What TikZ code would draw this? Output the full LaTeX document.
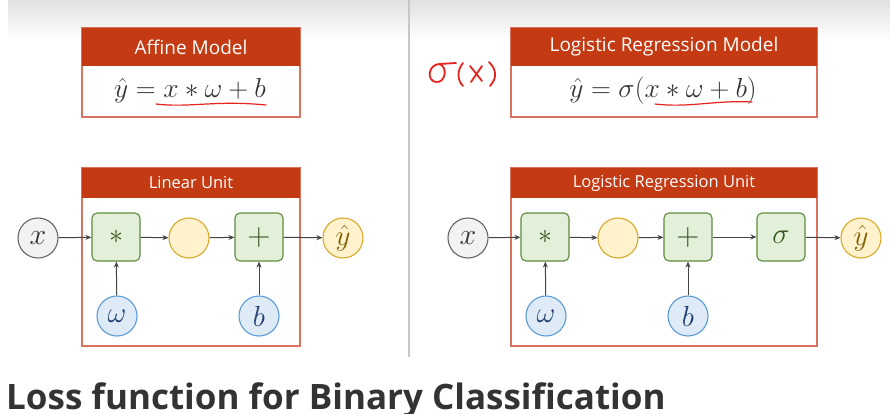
\RequirePackage{fix-cm}
\documentclass[tikz,border=0pt]{standalone}
\usepackage[no-math]{fontspec}
\setmainfont{Open Sans}
\usetikzlibrary{arrows.meta}
\definecolor{hdr}{HTML}{C43A12}
\definecolor{bdr}{HTML}{D7735F}
\definecolor{gfill}{HTML}{E2F0D9}
\definecolor{gdraw}{HTML}{5E8A3E}
\definecolor{gtext}{HTML}{385723}
\definecolor{yfill}{HTML}{FFF2CC}
\definecolor{ydraw}{HTML}{D9A92B}
\definecolor{ytext}{HTML}{7F6000}
\definecolor{bfill}{HTML}{DEEBF7}
\definecolor{bdraw}{HTML}{5B9BD5}
\definecolor{btext}{HTML}{1F3F6E}
\definecolor{xfill}{HTML}{F2F2F2}
\definecolor{xdraw}{HTML}{666666}
\definecolor{txt}{HTML}{333333}
\definecolor{arr}{HTML}{444444}
\definecolor{pen}{HTML}{E8231E}
\tikzset{
  container/.style={draw=bdr, line width=1.1pt, inner sep=0pt},
  header/.style={fill=hdr, inner sep=0pt, text=white},
  opbox/.style={draw=gdraw, fill=gfill, line width=1.1pt, rounded corners=5pt, minimum size=48pt, inner sep=0pt, text=gtext},
  midc/.style={circle, draw=ydraw, fill=yfill, line width=1.1pt, minimum size=40pt, inner sep=0pt},
  outc/.style={circle, draw=ydraw, fill=yfill, line width=1.1pt, minimum size=40pt, inner sep=0pt, text=ytext, font=\fontsize{29}{29}\selectfont},
  parc/.style={circle, draw=bdraw, fill=bfill, line width=1.1pt, minimum size=40pt, inner sep=0pt, text=btext, font=\fontsize{29}{29}\selectfont},
  inc/.style={circle, draw=xdraw, fill=xfill, line width=1.1pt, minimum size=40pt, inner sep=0pt, text=txt, font=\fontsize{30}{30}\selectfont},
  conn/.style={draw=arr, line width=1pt, -{Stealth[length=6pt,width=5pt]}},
  handpen/.style={draw=pen, line width=1.8pt, line cap=round, line join=round},
  formula/.style={text=txt, font=\fontsize{27.5}{28}\selectfont, inner sep=0pt}
}
\begin{document}
\begin{tikzpicture}[x=1pt, y=-1pt]
\useasboundingbox (0,0) rectangle (890,414);
\fill[white] (0,0) rectangle (890,414);
\shade[top color=black!12, bottom color=white] (8,0) rectangle (890,40);
\draw[black!22, line width=1.2pt] (409,0) -- (409,357);

% ---------- left: affine model ----------
\node[container, minimum width=218pt, minimum height=89pt] (affbox) at (191,72.5) {};
\node[header, minimum width=218pt, minimum height=38pt, font=\fontsize{19}{20}\selectfont] (affhdr) at (191,47) {Affine Model};
\node[formula] (afff) at (190,91) {$\hat{y} = x \ast \omega + b$};
\draw[handpen, line width=1.2pt] (156,104) .. controls (190,108) and (215,100) .. (266,105);

% ---------- left: linear unit ----------
\node[container, minimum width=218pt, minimum height=178pt] (linbox) at (191,257) {};
\node[header, minimum width=218pt, minimum height=30pt, font=\fontsize{16.5}{18}\selectfont] (linhdr) at (191,183) {Linear Unit};
\node[inc] (lx) at (38,238) {$x$};
\node[opbox, font=\fontsize{28}{28}\selectfont] (lmul) at (116,237) {$\ast$};
\node[midc] (lmid) at (189,238) {};
\node[opbox, font=\fontsize{32}{32}\selectfont] (ladd) at (259,237) {$+$};
\node[outc] (ly) at (343,238) {$\hat{y}$};
\node[parc] (lw) at (117,316) {$\omega$};
\node[parc] (lb) at (259,316) {$b$};
\draw[conn] (lx) -- (lmul);
\draw[conn] (lmul) -- (lmid);
\draw[conn] (lmid) -- (ladd);
\draw[conn] (ladd) -- (ly);
\draw[conn] (lw) -- (lmul);
\draw[conn] (lb) -- (ladd);

% ---------- right: logistic regression model ----------
\node[container, minimum width=306pt, minimum height=89pt] (logbox) at (664,72.5) {};
\node[header, minimum width=306pt, minimum height=38pt, font=\fontsize{19}{20}\selectfont] (loghdr) at (664,47) {Logistic Regression Model};
\node[formula] (logf) at (663,91) {$\hat{y} = \sigma(x \ast \omega + b)$};
\draw[handpen, line width=1.2pt] (655,104) .. controls (690,108) and (715,100) .. (752,102);

% handwritten sigma(x)
\draw[handpen] (441,64) .. controls (428,63) and (426,81) .. (436,82) .. controls (446,83) and (448,66) .. (439,64) -- (456,63);
\draw[handpen] (463,63) .. controls (457,70) and (457,80) .. (463,86);
\draw[handpen] (470,66) -- (482,81);
\draw[handpen] (482,66) -- (471,82);
\draw[handpen] (489,62) .. controls (497,70) and (497,78) .. (490,86);

% ---------- right: logistic regression unit ----------
\node[container, minimum width=306pt, minimum height=178pt] (lrbox) at (664,257) {};
\node[header, minimum width=306pt, minimum height=30pt, font=\fontsize{16.5}{18}\selectfont] (lrhdr) at (664,183) {Logistic Regression Unit};
\node[inc] (rx) at (468,238) {$x$};
\node[opbox, font=\fontsize{28}{28}\selectfont] (rmul) at (545,237) {$\ast$};
\node[midc] (rmid) at (618,238) {};
\node[opbox, font=\fontsize{32}{32}\selectfont] (radd) at (688,237) {$+$};
\node[opbox, font=\fontsize{29}{29}\selectfont] (rsig) at (781,237) {$\sigma$};
\node[outc] (ry) at (861,238) {$\hat{y}$};
\node[parc] (rw) at (546,316) {$\omega$};
\node[parc] (rb) at (688,316) {$b$};
\draw[conn] (rx) -- (rmul);
\draw[conn] (rmul) -- (rmid);
\draw[conn] (rmid) -- (radd);
\draw[conn] (radd) -- (rsig);
\draw[conn] (rsig) -- (ry);
\draw[conn] (rw) -- (rmul);
\draw[conn] (rb) -- (radd);

% ---------- title ----------
\node[anchor=base west, inner sep=0pt, text=txt, font=\fontsize{35}{40}\selectfont\bfseries] (title) at (6,409) {Loss function for Binary Classification};
\end{tikzpicture}
\end{document}
